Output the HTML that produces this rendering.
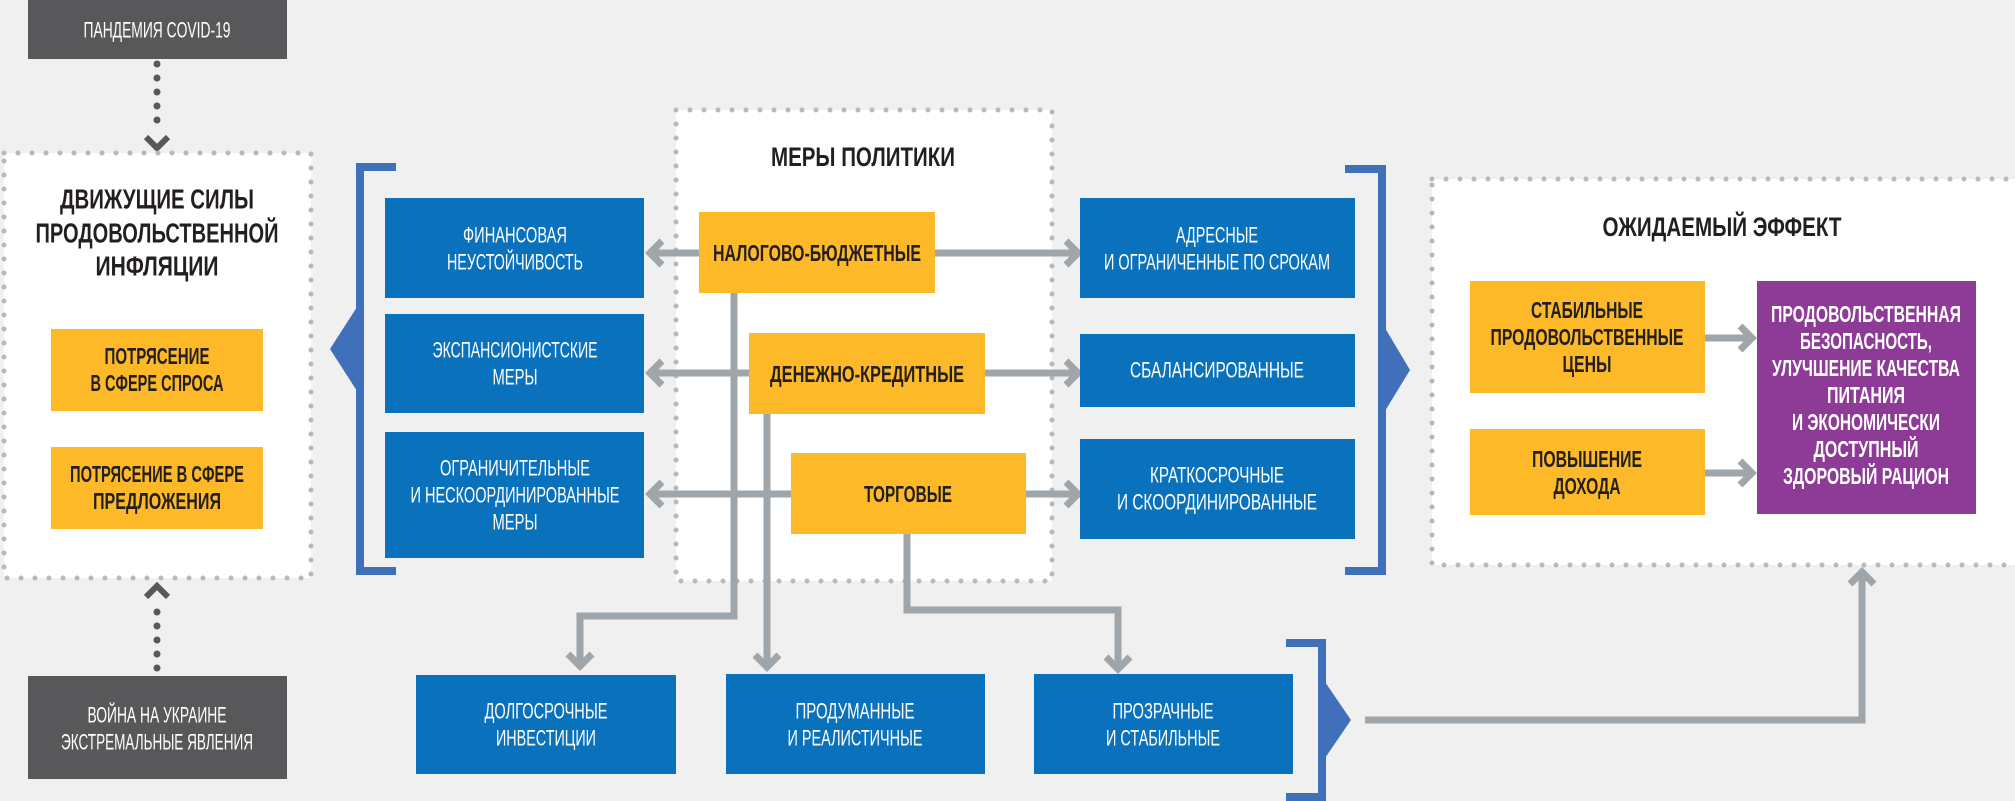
<!DOCTYPE html>
<html><head><meta charset="utf-8"><style>
html,body{margin:0;padding:0;background:#f0f0f0;}
svg{display:block;}
text{font-family:"Liberation Sans","DejaVu Sans",sans-serif;dominant-baseline:central;text-anchor:middle;}
.w{fill:#fff;font-size:22px;}
.b{fill:#231f20;font-size:23px;font-weight:bold;}
.t{fill:#231f20;font-size:28px;font-weight:bold;}
.p{fill:#fff;font-size:23px;font-weight:bold;}
.ar{fill:none;stroke:#9ea6ab;stroke-width:7;}
.dot{fill:none;stroke:#b8b8b8;stroke-width:5;stroke-linecap:round;stroke-dasharray:0 14;}
</style></head><body>
<svg width="2015" height="801" viewBox="0 0 2015 801" xmlns="http://www.w3.org/2000/svg">
<rect width="2015" height="801" fill="#f0f0f0"/>

<rect x="28" y="0" width="259" height="59" fill="#58585a"/>
<text class="w" x="157" y="30" textLength="147" lengthAdjust="spacingAndGlyphs">ПАНДЕМИЯ COVID-19</text>
<rect x="28" y="676" width="259" height="103" fill="#58585a"/>
<text class="w" x="157" y="715" textLength="139" lengthAdjust="spacingAndGlyphs">ВОЙНА НА УКРАИНЕ</text>
<text class="w" x="157" y="742" textLength="192" lengthAdjust="spacingAndGlyphs">ЭКСТРЕМАЛЬНЫЕ ЯВЛЕНИЯ</text>

<line x1="157" y1="64" x2="157" y2="134" stroke="#58585a" stroke-width="7" stroke-linecap="round" stroke-dasharray="0 14"/>
<polyline points="146,137 157,148 168,137" fill="none" stroke="#58585a" stroke-width="6"/>
<line x1="157" y1="612" x2="157" y2="674" stroke="#58585a" stroke-width="7" stroke-linecap="round" stroke-dasharray="0 14"/>
<polyline points="146,597 157,586 168,597" fill="none" stroke="#58585a" stroke-width="6"/>

<rect x="4" y="153" width="307" height="425" fill="#fff"/>
<rect x="4" y="153" width="307" height="425" class="dot"/>
<text class="t" x="157" y="199" textLength="194" lengthAdjust="spacingAndGlyphs">ДВИЖУЩИЕ СИЛЫ</text>
<text class="t" x="157" y="233" textLength="243" lengthAdjust="spacingAndGlyphs">ПРОДОВОЛЬСТВЕННОЙ</text>
<text class="t" x="157" y="266" textLength="123" lengthAdjust="spacingAndGlyphs">ИНФЛЯЦИИ</text>
<rect x="51" y="329" width="212" height="82" fill="#fdb927"/>
<text class="b" x="157" y="356" textLength="105" lengthAdjust="spacingAndGlyphs">ПОТРЯСЕНИЕ</text>
<text class="b" x="157" y="383" textLength="133" lengthAdjust="spacingAndGlyphs">В СФЕРЕ СПРОСА</text>
<rect x="51" y="447" width="212" height="82" fill="#fdb927"/>
<text class="b" x="157" y="474" textLength="174" lengthAdjust="spacingAndGlyphs">ПОТРЯСЕНИЕ В СФЕРЕ</text>
<text class="b" x="157" y="501" textLength="128" lengthAdjust="spacingAndGlyphs">ПРЕДЛОЖЕНИЯ</text>

<polyline points="396,167 360,167 360,571 396,571" fill="none" stroke="#3f70b9" stroke-width="8"/>
<polygon points="357,307 330,349 357,391" fill="#3f70b9"/>

<rect x="676" y="110" width="376" height="471" fill="#fff"/>
<rect x="676" y="110" width="376" height="471" class="dot"/>
<text class="t" x="863" y="157" textLength="184" lengthAdjust="spacingAndGlyphs" style="font-size:27px">МЕРЫ ПОЛИТИКИ</text>

<line class="ar" x1="650" y1="253" x2="1078" y2="253"/>
<line class="ar" x1="650" y1="373" x2="1078" y2="373"/>
<line class="ar" x1="650" y1="494" x2="1078" y2="494"/>
<polyline class="ar" points="662,241 650,253 662,265"/>
<polyline class="ar" points="662,361 650,373 662,385"/>
<polyline class="ar" points="662,482 650,494 662,506"/>
<polyline class="ar" points="1066,241 1078,253 1066,265"/>
<polyline class="ar" points="1066,361 1078,373 1066,385"/>
<polyline class="ar" points="1066,482 1078,494 1066,506"/>
<polyline class="ar" points="734,290 734,616 580,616 580,666"/>
<polyline class="ar" points="568,654 580,666 592,654"/>
<polyline class="ar" points="767,410 767,667"/>
<polyline class="ar" points="755,655 767,667 779,655"/>
<polyline class="ar" points="907,530 907,610 1118,610 1118,669"/>
<polyline class="ar" points="1106,657 1118,669 1130,657"/>

<rect x="699" y="212" width="236" height="81" fill="#fdb927"/>
<text class="b" x="817" y="253" textLength="208" lengthAdjust="spacingAndGlyphs">НАЛОГОВО-БЮДЖЕТНЫЕ</text>
<rect x="749" y="333" width="236" height="81" fill="#fdb927"/>
<text class="b" x="867" y="374" textLength="194" lengthAdjust="spacingAndGlyphs">ДЕНЕЖНО-КРЕДИТНЫЕ</text>
<rect x="791" y="453" width="235" height="81" fill="#fdb927"/>
<text class="b" x="908" y="494" textLength="88" lengthAdjust="spacingAndGlyphs">ТОРГОВЫЕ</text>

<rect x="385" y="198" width="259" height="100" fill="#0a72bd"/>
<text class="w" x="515" y="235" textLength="104" lengthAdjust="spacingAndGlyphs">ФИНАНСОВАЯ</text>
<text class="w" x="515" y="262" textLength="136" lengthAdjust="spacingAndGlyphs">НЕУСТОЙЧИВОСТЬ</text>
<rect x="385" y="314" width="259" height="99" fill="#0a72bd"/>
<text class="w" x="515" y="350" textLength="165" lengthAdjust="spacingAndGlyphs">ЭКСПАНСИОНИСТСКИЕ</text>
<text class="w" x="515" y="377" textLength="45" lengthAdjust="spacingAndGlyphs">МЕРЫ</text>
<rect x="385" y="432" width="259" height="126" fill="#0a72bd"/>
<text class="w" x="515" y="468" textLength="150" lengthAdjust="spacingAndGlyphs">ОГРАНИЧИТЕЛЬНЫЕ</text>
<text class="w" x="515" y="495" textLength="209" lengthAdjust="spacingAndGlyphs">И НЕСКООРДИНИРОВАННЫЕ</text>
<text class="w" x="515" y="522" textLength="45" lengthAdjust="spacingAndGlyphs">МЕРЫ</text>

<rect x="1080" y="198" width="275" height="100" fill="#0a72bd"/>
<text class="w" x="1217" y="235" textLength="82" lengthAdjust="spacingAndGlyphs">АДРЕСНЫЕ</text>
<text class="w" x="1217" y="262" textLength="226" lengthAdjust="spacingAndGlyphs">И ОГРАНИЧЕННЫЕ ПО СРОКАМ</text>
<rect x="1080" y="334" width="275" height="73" fill="#0a72bd"/>
<text class="w" x="1217" y="370" textLength="174" lengthAdjust="spacingAndGlyphs">СБАЛАНСИРОВАННЫЕ</text>
<rect x="1080" y="439" width="275" height="100" fill="#0a72bd"/>
<text class="w" x="1217" y="475" textLength="134" lengthAdjust="spacingAndGlyphs">КРАТКОСРОЧНЫЕ</text>
<text class="w" x="1217" y="502" textLength="200" lengthAdjust="spacingAndGlyphs">И СКООРДИНИРОВАННЫЕ</text>

<polyline points="1345,169 1382,169 1382,571 1345,571" fill="none" stroke="#3f70b9" stroke-width="8"/>
<polygon points="1385,328 1410,370 1385,411" fill="#3f70b9"/>

<rect x="416" y="675" width="260" height="99" fill="#0a72bd"/>
<text class="w" x="546" y="711" textLength="123" lengthAdjust="spacingAndGlyphs">ДОЛГОСРОЧНЫЕ</text>
<text class="w" x="546" y="738" textLength="100" lengthAdjust="spacingAndGlyphs">ИНВЕСТИЦИИ</text>
<rect x="726" y="674" width="259" height="100" fill="#0a72bd"/>
<text class="w" x="855" y="711" textLength="119" lengthAdjust="spacingAndGlyphs">ПРОДУМАННЫЕ</text>
<text class="w" x="855" y="738" textLength="135" lengthAdjust="spacingAndGlyphs">И РЕАЛИСТИЧНЫЕ</text>
<rect x="1034" y="674" width="259" height="100" fill="#0a72bd"/>
<text class="w" x="1163" y="711" textLength="101" lengthAdjust="spacingAndGlyphs">ПРОЗРАЧНЫЕ</text>
<text class="w" x="1163" y="738" textLength="114" lengthAdjust="spacingAndGlyphs">И СТАБИЛЬНЫЕ</text>

<polyline points="1286,643 1322,643 1322,797 1286,797" fill="none" stroke="#3f70b9" stroke-width="8"/>
<polygon points="1325,682 1351,720 1325,758" fill="#3f70b9"/>
<polyline class="ar" points="1365,720 1862,720 1862,572"/>

<rect x="1432" y="179" width="590" height="386" fill="#fff"/>
<rect x="1432" y="179" width="590" height="386" class="dot"/>
<polyline class="ar" points="1850,584 1862,572 1874,584"/>
<text class="t" x="1722" y="227" textLength="239" lengthAdjust="spacingAndGlyphs" style="font-size:27px">ОЖИДАЕМЫЙ ЭФФЕКТ</text>
<rect x="1470" y="281" width="235" height="112" fill="#fdb927"/>
<text class="b" x="1587" y="310" textLength="112" lengthAdjust="spacingAndGlyphs">СТАБИЛЬНЫЕ</text>
<text class="b" x="1587" y="337" textLength="193" lengthAdjust="spacingAndGlyphs">ПРОДОВОЛЬСТВЕННЫЕ</text>
<text class="b" x="1587" y="364" textLength="49" lengthAdjust="spacingAndGlyphs">ЦЕНЫ</text>
<rect x="1470" y="429" width="235" height="86" fill="#fdb927"/>
<text class="b" x="1587" y="459" textLength="110" lengthAdjust="spacingAndGlyphs">ПОВЫШЕНИЕ</text>
<text class="b" x="1587" y="486" textLength="67" lengthAdjust="spacingAndGlyphs">ДОХОДА</text>
<line class="ar" x1="1705" y1="338" x2="1752" y2="338"/>
<polyline class="ar" points="1740,326 1752,338 1740,350"/>
<line class="ar" x1="1705" y1="473" x2="1752" y2="473"/>
<polyline class="ar" points="1740,461 1752,473 1740,485"/>
<rect x="1757" y="281" width="219" height="233" fill="#8e3b97"/>
<text class="p" x="1866" y="314" textLength="190" lengthAdjust="spacingAndGlyphs">ПРОДОВОЛЬСТВЕННАЯ</text>
<text class="p" x="1866" y="341" textLength="132" lengthAdjust="spacingAndGlyphs">БЕЗОПАСНОСТЬ,</text>
<text class="p" x="1866" y="368" textLength="188" lengthAdjust="spacingAndGlyphs">УЛУЧШЕНИЕ КАЧЕСТВА</text>
<text class="p" x="1866" y="395" textLength="78" lengthAdjust="spacingAndGlyphs">ПИТАНИЯ</text>
<text class="p" x="1866" y="422" textLength="148" lengthAdjust="spacingAndGlyphs">И ЭКОНОМИЧЕСКИ</text>
<text class="p" x="1866" y="449" textLength="105" lengthAdjust="spacingAndGlyphs">ДОСТУПНЫЙ</text>
<text class="p" x="1866" y="476" textLength="166" lengthAdjust="spacingAndGlyphs">ЗДОРОВЫЙ РАЦИОН</text>
</svg>
</body></html>
